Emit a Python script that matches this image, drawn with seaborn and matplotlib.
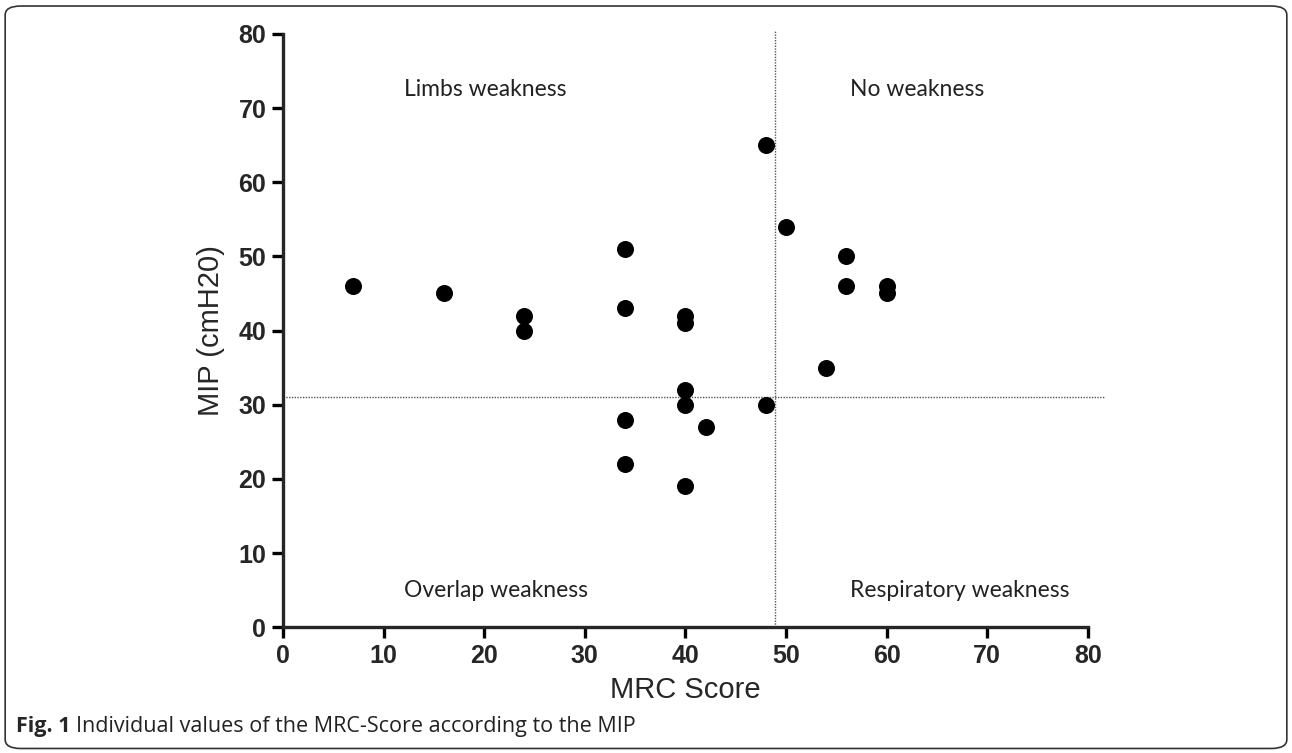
import matplotlib
matplotlib.use("Agg")
import matplotlib.pyplot as plt
import seaborn as sns
import pandas as pd
from matplotlib.patches import FancyBboxPatch

# ---------- data ----------
mrc_score = [7, 16, 24, 24, 34, 34, 34, 34, 40, 40, 40, 40, 40, 42, 48, 48, 50, 54, 56, 56, 60, 60]
mip_cmh2o = [46, 45, 42, 40, 51, 43, 28, 22, 42, 41, 32, 30, 19, 27, 65, 30, 54, 35, 50, 46, 46, 45]

mrc_cutoff = 48.9
mip_cutoff = 31

quadrant_labels = ["Limbs weakness", "No weakness", "Overlap weakness", "Respiratory weakness"]
quadrant_x = [12, 56.4, 12, 56.4]
quadrant_y = [72.5, 72.5, 5, 5]

ticks = [0, 10, 20, 30, 40, 50, 60, 70, 80]

df = pd.DataFrame({"MRC Score": mrc_score, "MIP (cmH20)": mip_cmh2o})

# ---------- plot ----------
sns.set_style("ticks")
plt.rcParams["font.family"] = ["Liberation Sans", "DejaVu Sans"]

fig = plt.figure(figsize=(12.92, 7.53), dpi=100)
ax = fig.add_axes([0.219, 0.167, 0.623, 0.788])

sns.scatterplot(data=df, x="MRC Score", y="MIP (cmH20)", color="black",
                s=150, edgecolor="black", linewidth=0, ax=ax, zorder=3)

# cut-off lines (dotted)
ax.axvline(mrc_cutoff, ymin=0, ymax=80.5 / 80, color="#555555", lw=1, ls=(0, (1, 1)), clip_on=False)
ax.axhline(mip_cutoff, xmin=0, xmax=81.6 / 80, color="#555555", lw=1, ls=(0, (1, 1)), clip_on=False)

for label, qx, qy in zip(quadrant_labels, quadrant_x, quadrant_y):
    ax.text(qx, qy, label, fontsize=16.5, family="Lato", color="#222222", va="center", ha="left")

ax.set_xlim(0, 80)
ax.set_ylim(0, 80)
ax.set_xticks(ticks)
ax.set_yticks(ticks)
for t in ax.get_xticklabels() + ax.get_yticklabels():
    t.set_fontweight("bold")
    t.set_fontsize(18)
ax.tick_params(direction="out", length=8, width=2.4, color="black", pad=4)
for side in ["left", "bottom"]:
    ax.spines[side].set_linewidth(2.4)
sns.despine(ax=ax)

ax.set_xlabel("MRC Score", fontsize=21, labelpad=6)
ax.set_ylabel("MIP (cmH20)", fontsize=21, labelpad=10)

# caption: bold "Fig. 1" followed by plain text
fig_tag = fig.text(0.012, 0.035, "Fig. 1", fontsize=15.5, fontweight="bold",
                   family="Open Sans", va="center")
fig.canvas.draw()
tag_box = fig_tag.get_window_extent().transformed(fig.transFigure.inverted())
fig.text(tag_box.x1 + 0.005, 0.035, "Individual values of the MRC-Score according to the MIP",
         fontsize=15.5, family="Open Sans", color="#222222", va="center")

frame = FancyBboxPatch((0.004, 0.006), 0.992, 0.986, boxstyle="round,pad=0,rounding_size=0.012",
                       transform=fig.transFigure, fill=False, lw=1.2, edgecolor="#333333")
fig.patches.append(frame)

fig.savefig("out.png", dpi=100)
